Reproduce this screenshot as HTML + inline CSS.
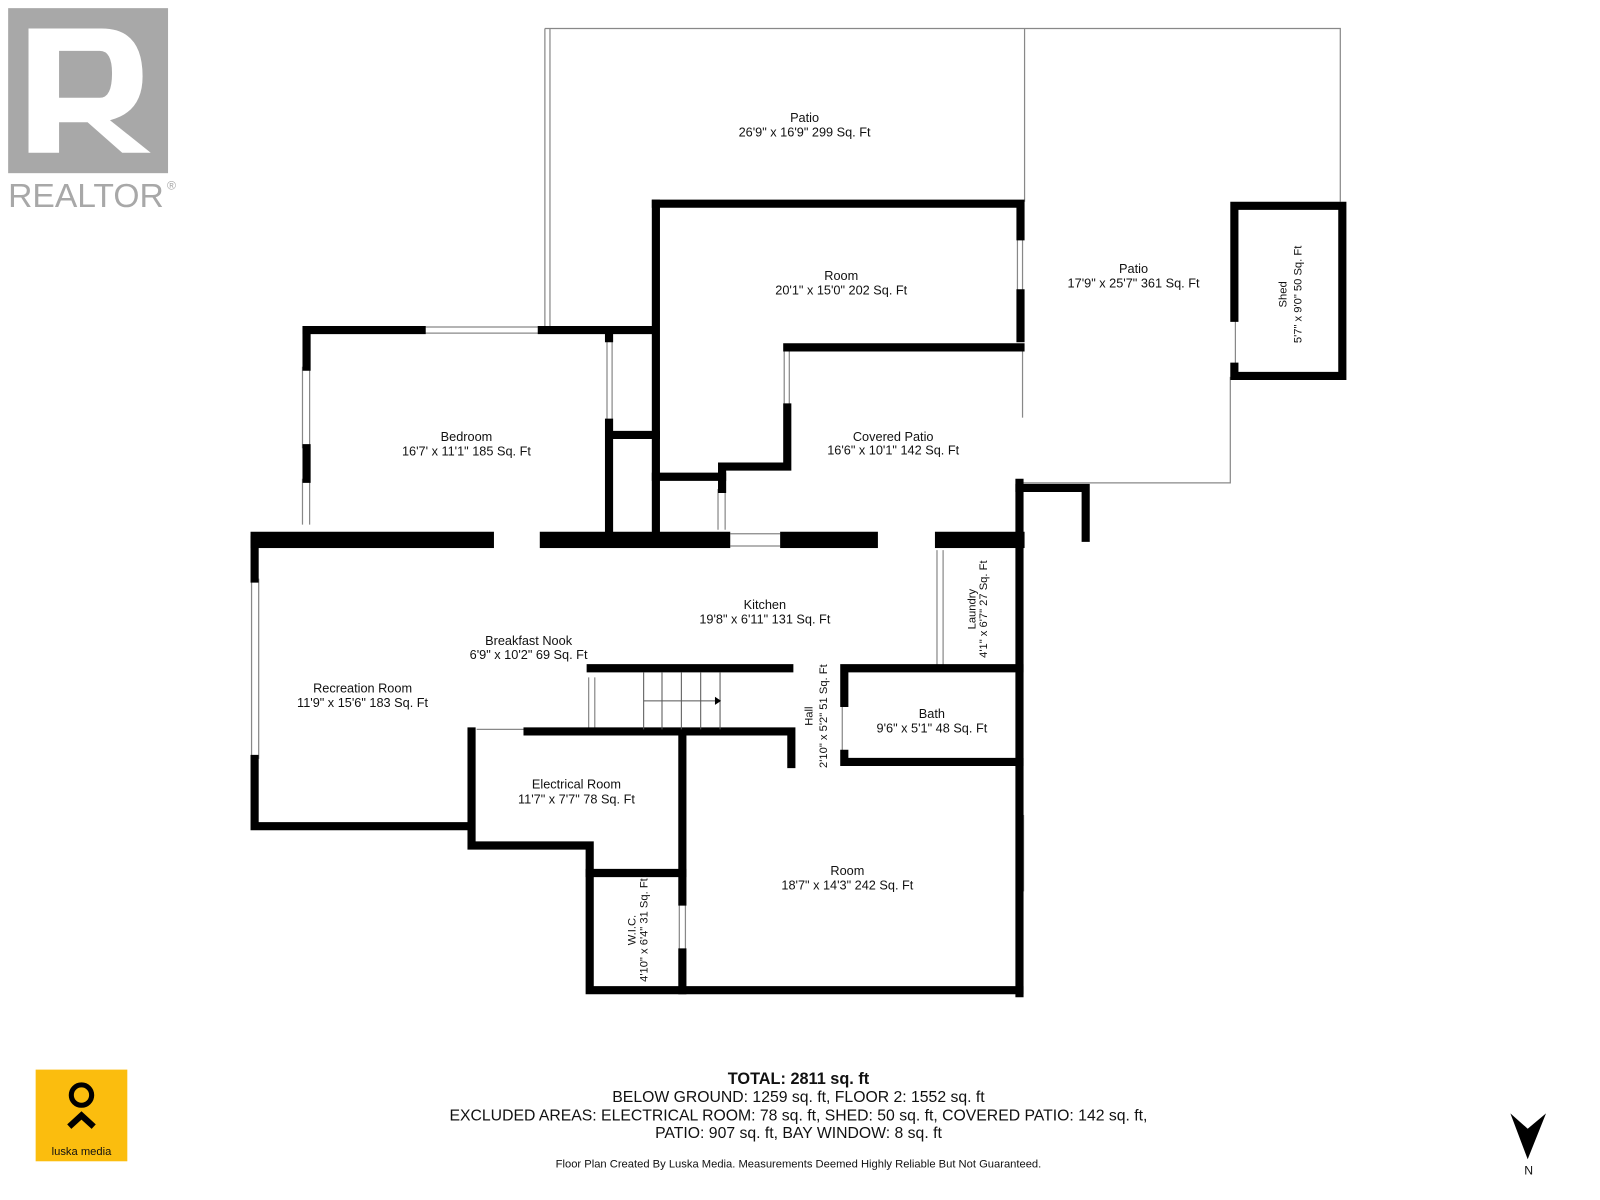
<!DOCTYPE html>
<html><head><meta charset="utf-8"><style>
html,body{margin:0;padding:0;background:#fff;}
svg{display:block}
text{font-family:"Liberation Sans",sans-serif;fill:#111;}
</style></head><body>
<svg width="1600" height="1200" viewBox="0 0 1571 1178" preserveAspectRatio="none" xmlns="http://www.w3.org/2000/svg">
<rect width="1571" height="1178" fill="#fff"/>
<!-- REALTOR logo -->
<rect x="8" y="8" width="157" height="162" fill="#a8a8a8"/>
<path d="M28 28 H100 Q140 28 140 75 Q140 110 108 118 L148 150 H120 L86 120 H58 V150 H28 Z" fill="#fff"/>
<path d="M58 50 H98 Q110 50 110 72 Q110 96 98 96 H58 Z" fill="#a8a8a8"/>
<text x="8" y="203" font-size="33" style="fill:#a8a8a8">REALTOR</text>
<text x="164" y="186" font-size="12" style="fill:#a8a8a8">®</text>

<g stroke="#888" stroke-width="1.2" fill="none">
<path d="M535 28 H1316 V198"/>
<path d="M540 28 V322 M535 28 V322"/>
<path d="M1006 28 V198"/>
<path d="M1001 474 H1208 V370"/>
<path d="M1213 312 V360"/>
<path d="M1004 232 V288 M999 232 V288"/>
<path d="M1004 345 V410"/>
<path d="M775 345 V400 M770 345 V400"/>
<path d="M705 480 V520 M712 480 V520"/>
<path d="M414 321 H532 M414 327 H532"/>
<path d="M297 360 V440 M304 360 V440"/>
<path d="M297 470 V515 M304 470 V515"/>
<path d="M596 335 V415 M601 335 V415"/>
<path d="M596 432 V518 M601 432 V518"/>
<path d="M717 524 H766 M717 536 H766"/>
<path d="M247 568 V745 M254 568 V745"/>
<path d="M920 540 V654 M926 540 V654"/>
<path d="M578 665 V715 M584 665 V715"/>
<path d="M827 690 V740"/>
<path d="M999 800 V875 M1005 800 V875"/>
<path d="M667 885 V935 M673 885 V935"/>
<path d="M468 716 H518"/>
</g>

<g stroke="#000" stroke-width="8" fill="none" stroke-linecap="square">
<path d="M644 200 H1002 V232"/>
<path d="M1002 288 V332"/>
<path d="M644 200 V522"/>
<path d="M773 341 H1002"/>
<path d="M773 400 V458 H709 V480"/>
<path d="M644 468 H709"/>
<path d="M301 324 H414 M532 324 H640"/>
<path d="M301 324 V360 M301 440 V470"/>
<path d="M598 324 V332 M598 415 V522 M598 427 H644"/>
<path d="M1001 474 V975"/>
<path d="M1001 479 H1066 V528"/>
<path d="M250 530 V568 M250 745 V811 H462"/>
<path d="M463 718 V830 H579 V972 H1001"/>
<path d="M579 857 H670"/>
<path d="M670 720 V885 M670 935 V972"/>
<path d="M580 656 H775"/>
<path d="M518 718 H777 V750"/>
<path d="M829 656 H1001 M829 748 H1001 M829 656 V690 M829 740 V748"/>
<path d="M1212 202 H1318 V369 H1212 V360 M1212 202 V312"/>
</g>
<g fill="#000">
<rect x="246" y="522" width="239" height="16"/>
<rect x="530" y="522" width="187" height="16"/>
<rect x="766" y="522" width="96" height="16"/>
<rect x="918" y="522" width="88" height="16"/>
</g>

<g stroke="#555" stroke-width="1" fill="none">
<path d="M632 660 V716 M650 660 V716 M669 660 V716 M688 660 V716 M707 660 V716 M632 688 H707"/>
</g>
<path d="M702 684 L708 688 L702 692 Z" fill="#000"/>

<g font-size="12.5" text-anchor="middle">
<text x="790" y="120">Patio</text><text x="790" y="134">26'9" x 16'9" 299 Sq. Ft</text>
<text x="826" y="275">Room</text><text x="826" y="289">20'1" x 15'0" 202 Sq. Ft</text>
<text x="1113" y="268">Patio</text><text x="1113" y="282">17'9" x 25'7" 361 Sq. Ft</text>
<text x="458" y="433">Bedroom</text><text x="458" y="447">16'7' x 11'1" 185 Sq. Ft</text>
<text x="877" y="433">Covered Patio</text><text x="877" y="446">16'6" x 10'1" 142 Sq. Ft</text>
<text x="751" y="598">Kitchen</text><text x="751" y="612">19'8" x 6'11" 131 Sq. Ft</text>
<text x="519" y="633">Breakfast Nook</text><text x="519" y="647">6'9" x 10'2" 69 Sq. Ft</text>
<text x="356" y="680">Recreation Room</text><text x="356" y="694">11'9" x 15'6" 183 Sq. Ft</text>
<text x="915" y="705">Bath</text><text x="915" y="719">9'6" x 5'1" 48 Sq. Ft</text>
<text x="566" y="774">Electrical Room</text><text x="566" y="789">11'7" x 7'7" 78 Sq. Ft</text>
<text x="832" y="859">Room</text><text x="832" y="873">18'7" x 14'3" 242 Sq. Ft</text>
</g>
<g font-size="11" text-anchor="middle">
<text transform="translate(1263,289) rotate(-90)">Shed</text>
<text transform="translate(1278,289) rotate(-90)">5'7" x 9'0" 50 Sq. Ft</text>
<text transform="translate(958,598) rotate(-90)">Laundry</text>
<text transform="translate(969,598) rotate(-90)">4'1" x 6'7" 27 Sq. Ft</text>
<text transform="translate(798,703) rotate(-90)">Hall</text>
<text transform="translate(812,703) rotate(-90)">2'10" x 5'2" 51 Sq. Ft</text>
<text transform="translate(624,913) rotate(-90)">W.I.C.</text>
<text transform="translate(636,913) rotate(-90)">4'10" x 6'4" 31 Sq. Ft</text>
</g>

<g text-anchor="middle">
<text x="784" y="1064" font-size="16" font-weight="bold">TOTAL: 2811 sq. ft</text>
<text x="784" y="1082" font-size="15.5">BELOW GROUND: 1259 sq. ft, FLOOR 2: 1552 sq. ft</text>
<text x="784" y="1100" font-size="15.5">EXCLUDED AREAS: ELECTRICAL ROOM: 78 sq. ft, SHED: 50 sq. ft, COVERED PATIO: 142 sq. ft,</text>
<text x="784" y="1117" font-size="15.5">PATIO: 907 sq. ft, BAY WINDOW: 8 sq. ft</text>
<text x="784" y="1146" font-size="11">Floor Plan Created By Luska Media. Measurements Deemed Highly Reliable But Not Guaranteed.</text>
</g>

<rect x="35" y="1050" width="90" height="90" fill="#fbbd0e"/>
<circle cx="80" cy="1075" r="10" fill="none" stroke="#000" stroke-width="5"/>
<path d="M68 1106 L80 1095 L92 1106" fill="none" stroke="#000" stroke-width="6"/>
<text x="80" y="1134" font-size="11" text-anchor="middle">luska media</text>

<path d="M1483 1093 L1500 1108 L1518 1093 L1500 1138 Z" fill="#000"/>
<text x="1501" y="1153" font-size="12" text-anchor="middle">N</text>
</svg>
</body></html>
